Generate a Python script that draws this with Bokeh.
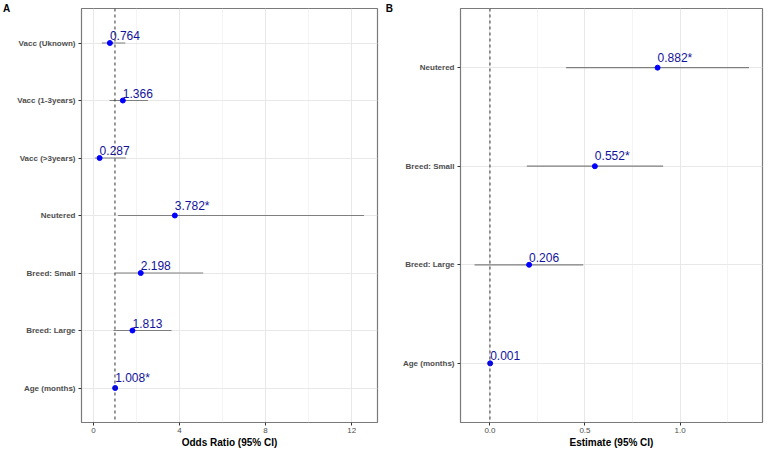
from bokeh.plotting import figure
from bokeh.models import (FactorRange, Range1d, FixedTicker, Span,
                          ColumnDataSource, NumeralTickFormatter, BasicTickFormatter)
from bokeh.layouts import row
from bokeh.core.properties import value
from bokeh.embed import file_html
from bokeh.resources import INLINE

# ---- Panel A data (bottom to top) ----
a_terms = ["Age (months)", "Breed: Large", "Breed: Small", "Neutered",
           "Vacc (>3years)", "Vacc (1-3years)", "Vacc (Uknown)"]
a_or = [1.008, 1.813, 2.198, 3.782, 0.287, 1.366, 0.764]
a_lo = [1.000, 0.93, 1.02, 1.14, 0.06, 0.75, 0.39]
a_hi = [1.016, 3.63, 5.10, 12.57, 1.51, 2.53, 1.48]
a_labels = ["1.008*", "1.813", "2.198", "3.782*", "0.287", "1.366", "0.764"]
a_ticks = [0, 4, 8, 12]
a_minor = [2, 6, 10]

# ---- Panel B data (bottom to top) ----
b_terms = ["Age (months)", "Breed: Large", "Breed: Small", "Neutered"]
b_est = [0.001, 0.206, 0.552, 0.882]
b_lo = [-0.002, -0.081, 0.194, 0.401]
b_hi = [0.004, 0.491, 0.911, 1.363]
b_labels = ["0.001", "0.206", "0.552*", "0.882*"]
b_ticks = [0.0, 0.5, 1.0]
b_minor = [0.25, 0.75, 1.25]

FONT = "Liberation Sans"
TXT_BLUE = "#12129c"


def make_panel(terms, est, lo, hi, labels, xr, ticks, minor, ref, xlabel,
               letter, width, mbl, mbr, fmt, letter_gap):
    n = len(terms)
    yr = FactorRange(factors=terms, range_padding=0.2 / n,
                     range_padding_units="percent")
    p = figure(width=width, height=450, y_range=yr,
               x_range=Range1d(*xr), output_backend="svg",
               toolbar_location=None, min_border_left=mbl,
               min_border_right=mbr, min_border_top=8, min_border_bottom=0)
    p.background_fill_color = "white"
    p.border_fill_color = "white"
    p.outline_line_color = "#7a7a7a"
    p.outline_line_width = 1.2

    # grids
    p.xgrid.ticker = FixedTicker(ticks=ticks, minor_ticks=minor)
    p.xgrid.grid_line_color = "#e8e8e8"
    p.xgrid.grid_line_width = 1
    p.xgrid.minor_grid_line_color = "#efefef"
    p.xgrid.minor_grid_line_width = 0.7
    p.ygrid.grid_line_color = "#e8e8e8"
    p.ygrid.grid_line_width = 1

    # axes
    p.xaxis.ticker = FixedTicker(ticks=ticks, minor_ticks=minor)
    p.xaxis.formatter = fmt
    for ax in (p.xaxis[0], p.yaxis[0]):
        ax.axis_line_color = None
        ax.major_tick_in = 0
        ax.major_tick_out = 3
        ax.major_tick_line_color = "#333333"
        ax.minor_tick_line_color = None
        ax.major_label_text_font = FONT
        ax.major_label_text_font_size = "8px"
        ax.major_label_text_color = "#4d4d4d"
    p.yaxis.major_label_text_font_style = "bold"
    p.yaxis.major_label_standoff = 3
    p.xaxis.major_label_standoff = 1
    p.xaxis.axis_label = xlabel
    p.xaxis.axis_label_text_font = FONT
    p.xaxis.axis_label_text_font_size = "10px"
    p.xaxis.axis_label_text_font_style = "bold"
    p.xaxis.axis_label_text_color = "black"
    p.xaxis.axis_label_standoff = 1

    # panel letter as a horizontal y-axis label placed at the top
    ya = p.yaxis[0]
    ya.axis_label = letter
    ya.axis_label_text_font = FONT
    ya.axis_label_text_font_size = "10px"
    ya.axis_label_text_font_style = "bold"
    ya.axis_label_text_color = "black"
    ya.axis_label_standoff = letter_gap
    try:
        ya.axis_label_orientation = "horizontal"
        ya.axis_label_align = "end"
    except AttributeError:
        pass

    src = ColumnDataSource(dict(term=terms, est=est, lo=lo, hi=hi, lab=labels))
    p.add_layout(Span(location=ref, dimension="height", line_color="#333333",
                      line_width=1, line_dash="3 3"))
    p.segment(x0="lo", y0="term", x1="hi", y1="term", source=src,
              line_color="#7f7f7f", line_width=1.2)
    p.scatter(x="est", y="term", source=src, size=5, color="#0000ff")
    p.text(x="est", y="term", text="lab", source=src, text_align="left",
           text_baseline="bottom", x_offset=0, y_offset=-3,
           text_font_size="12px", text_color=TXT_BLUE, text_font=value(FONT))
    return p


pa = make_panel(a_terms, a_or, a_lo, a_hi, a_labels, (-0.555, 13.2),
                a_ticks, a_minor, 1, "Odds Ratio (95% CI)", "A", 382, 77, 5,
                BasicTickFormatter(), 4)
pb = make_panel(b_terms, b_est, b_lo, b_hi, b_labels, (-0.155, 1.434),
                b_ticks, b_minor, 0, "Estimate (95% CI)", "B", 382, 72, 2,
                NumeralTickFormatter(format="0.0"), 7)

layout = row(pa, pb)
open("out.html", "w").write(file_html(layout, INLINE))
